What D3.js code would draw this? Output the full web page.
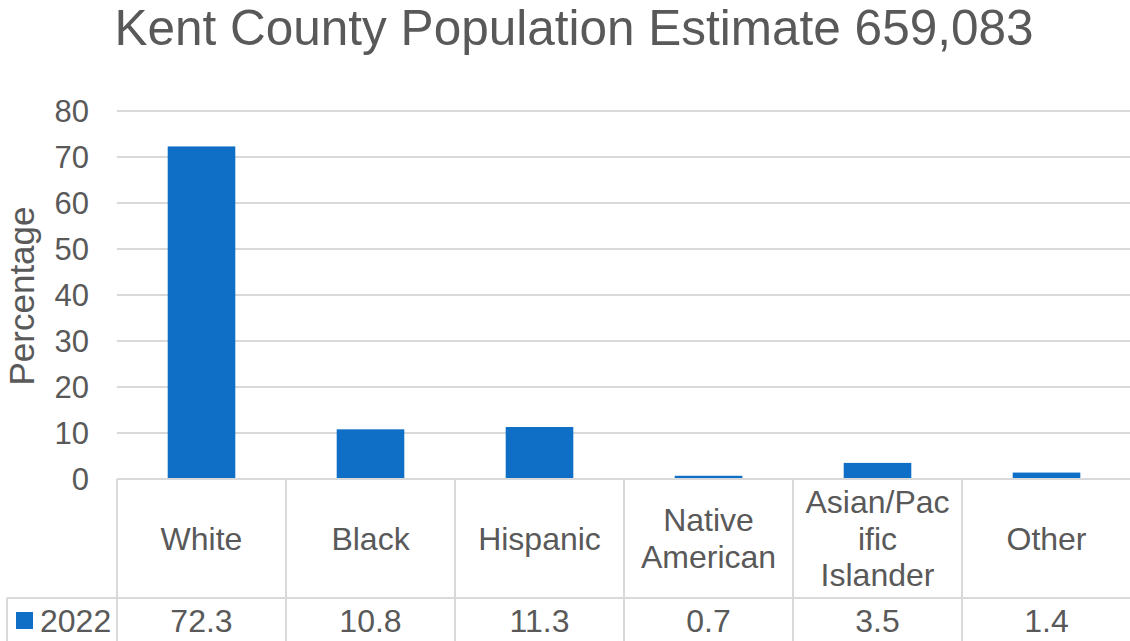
<!DOCTYPE html>
<html><head><meta charset="utf-8">
<script src="https://cdn.jsdelivr.net/npm/d3@7"></script>
<style>
html,body{margin:0;padding:0;background:#fff;overflow:hidden}
text{font-family:"Liberation Sans",Arial,sans-serif;fill:#595959}
</style></head>
<body><svg id="c" width="1130" height="641"></svg>
<script>
const title = "Kent County Population Estimate 659,083";
const categories = ["White","Black","Hispanic","Native American","Asian/Pacific Islander","Other"];
const categoryLines = [["White"],["Black"],["Hispanic"],["Native","American"],["Asian/Pac","ific","Islander"],["Other"]];
const seriesName = "2022";
const values = [72.3,10.8,11.3,0.7,3.5,1.4];
const valueLabels = ["72.3","10.8","11.3","0.7","3.5","1.4"];
const yTicks = [0,10,20,30,40,50,60,70,80];
const yLabel = "Percentage";

(function(){
const svg = d3.select("#c");
const pLeft = 117, pRight = 1131, pTop = 111, pBase = 479;
const row1 = 598, row2 = 660, legendLeft = 7;
const grid = "#d9d9d9", blue = "#0F6FC6";

const x = d3.scaleBand().domain(categories).range([pLeft, pRight]).padding(0);
const y = d3.scaleLinear().domain([0, 80]).range([pBase, pTop]);

svg.append("text").attr("x", 574).attr("y", 45).attr("text-anchor","middle")
  .style("font-size","49.5px").text(title);

svg.append("g").selectAll("line").data(yTicks.filter(d=>d>0)).join("line")
  .attr("x1", pLeft).attr("x2", pRight).attr("y1", d=>y(d)).attr("y2", d=>y(d))
  .attr("stroke", grid).attr("stroke-width", 2);

svg.append("g").selectAll("text").data(yTicks).join("text")
  .attr("x", 89).attr("y", d=>y(d)).attr("dy","0.36em").attr("text-anchor","end")
  .style("font-size","31px").text(d=>d);

svg.append("text").attr("transform","translate(34,296) rotate(-90)")
  .attr("text-anchor","middle").style("font-size","35px").text(yLabel);

const bw = x.bandwidth()*0.4;
svg.append("g").selectAll("rect").data(values).join("rect")
  .attr("x", (d,i)=>x(categories[i]) + (x.bandwidth()-bw)/2)
  .attr("width", bw)
  .attr("y", d=>y(d)).attr("height", d=>pBase - y(d))
  .attr("fill", blue);

const tl = svg.append("g").attr("stroke", grid).attr("stroke-width", 2).attr("fill","none");
tl.append("line").attr("x1", pLeft).attr("x2", pRight).attr("y1", pBase).attr("y2", pBase);
tl.append("line").attr("x1", legendLeft).attr("x2", pRight).attr("y1", row1).attr("y2", row1);
tl.append("line").attr("x1", legendLeft).attr("x2", legendLeft).attr("y1", row1).attr("y2", row2);
categories.concat([null]).forEach((c,i)=>{
  const xx = i < categories.length ? x(c) : pRight;
  tl.append("line").attr("x1", xx).attr("x2", xx).attr("y1", pBase).attr("y2", row2);
});

const lh = 36.5;
categories.forEach((c,i)=>{
  const lines = categoryLines[i];
  const cx = x(c) + x.bandwidth()/2;
  const cy = 538;
  lines.forEach((t,j)=>{
    svg.append("text").attr("x", cx).attr("y", cy + (j - (lines.length-1)/2)*lh)
      .attr("dy","0.36em").attr("text-anchor","middle").style("font-size","32px").text(t);
  });
  svg.append("text").attr("x", cx).attr("y", 620).attr("dy","0.36em")
    .attr("text-anchor","middle").style("font-size","32px").text(valueLabels[i]);
});

svg.append("rect").attr("x",16).attr("y",612).attr("width",17).attr("height",17).attr("fill",blue);
svg.append("text").attr("x",40).attr("y",620).attr("dy","0.36em").style("font-size","32px").text(seriesName);
})();
</script></body></html>
